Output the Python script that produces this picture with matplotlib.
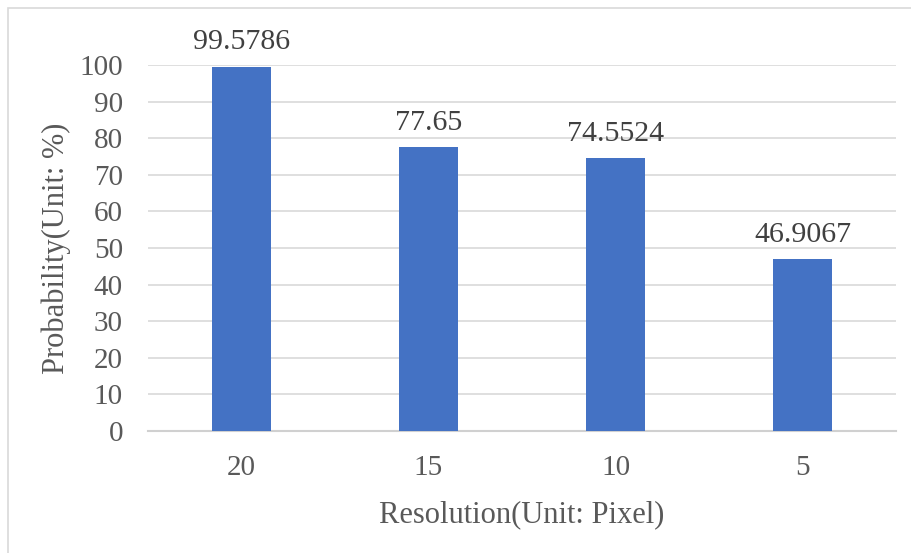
import matplotlib.pyplot as plt
from matplotlib.patches import Rectangle

categories = ['20', '15', '10', '5']
probability = [99.5786, 77.65, 74.5524, 46.9067]
value_labels = ['99.5786', '77.65', '74.5524', '46.9067']
y_ticks = [0, 10, 20, 30, 40, 50, 60, 70, 80, 90, 100]

plt.rcParams['font.family'] = ['Liberation Serif', 'DejaVu Serif']

fig = plt.figure(figsize=(9.11, 5.53), dpi=100)
W, H = 911, 553
ax = fig.add_axes([148 / W, 1 - 431 / H, (896 - 148) / W, (431 - 65) / H])

x = range(len(categories))
bars = ax.bar(x, probability, width=0.316, color='#4472C4', zorder=3)

for b, lab in zip(bars, value_labels):
    ax.annotate(lab, (b.get_x() + b.get_width() / 2, b.get_height()),
                xytext=(0, 8), textcoords='offset points',
                ha='center', va='bottom', fontsize=21.5, color='#404040')

ax.set_xlim(-0.5, len(categories) - 0.5)
ax.set_ylim(0, 100)
ax.set_yticks(y_ticks)
ax.set_xticks(list(x))
ax.set_xticklabels(categories)
ax.grid(axis='y', color='#d9d9d9', linewidth=1.2, zorder=0)
ax.tick_params(length=0, labelsize=21, labelcolor='#595959')
ax.tick_params(axis='y', pad=18)
ax.tick_params(axis='x', pad=17)

for s in ['top', 'right', 'left']:
    ax.spines[s].set_visible(False)
ax.spines['bottom'].set_color('#d0d0d0')
ax.spines['bottom'].set_linewidth(1.5)

ax.set_xlabel('Resolution(Unit: Pixel)', fontsize=22, color='#595959', labelpad=14)
ax.set_ylabel('Probability(Unit: %)', fontsize=22, color='#595959', labelpad=6)

# outer chart border (cut off at right and bottom edges)
fig.patches.append(Rectangle((8 / W, -0.1), 1.2, 1 - 8 / H + 0.1,
                             transform=fig.transFigure, fill=False,
                             edgecolor='#d9d9d9', linewidth=1.2))

fig.savefig('out.png', dpi=100)
